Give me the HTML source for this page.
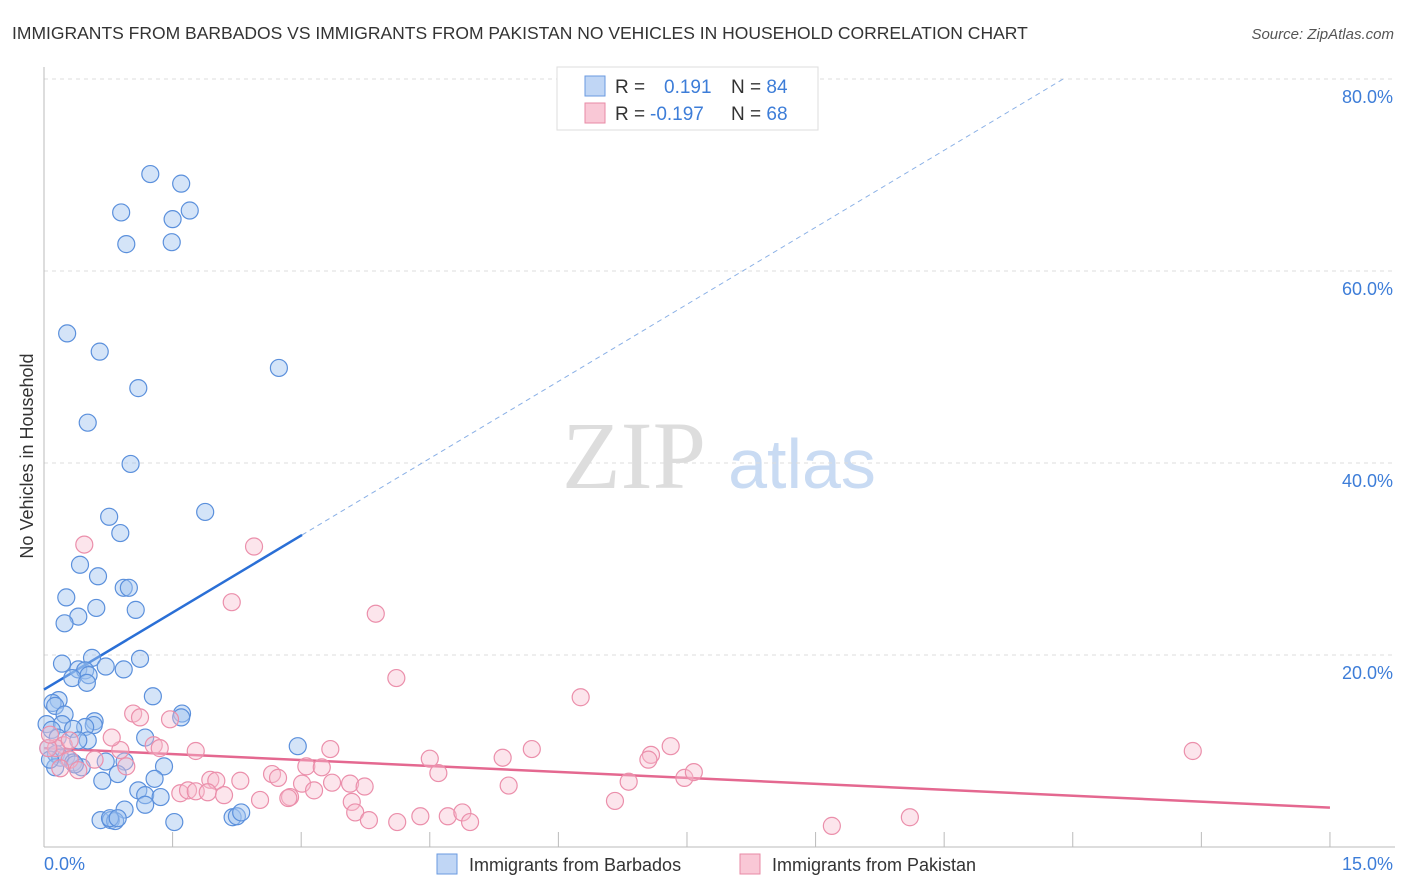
<!DOCTYPE html>
<html><head><meta charset="utf-8"><style>
body{margin:0;background:#fff;font-family:"Liberation Sans",sans-serif;}
#wrap{position:relative;width:1406px;height:892px;overflow:hidden;}
</style></head><body>
<div id="wrap">
<svg id="svg" width="1406" height="892" xmlns="http://www.w3.org/2000/svg">
<text x="12" y="39" font-size="17.5" fill="#333">IMMIGRANTS FROM BARBADOS VS IMMIGRANTS FROM PAKISTAN NO VEHICLES IN HOUSEHOLD CORRELATION CHART</text>
<text x="1394" y="39" font-size="15" fill="#555" font-style="italic" text-anchor="end">Source: ZipAtlas.com</text>
<g>
<text x="634" y="488" font-size="96" fill="#ddd" font-family="Liberation Serif,serif" text-anchor="middle">ZIP</text>
<text x="802" y="488" font-size="70" fill="#c9dbf3" text-anchor="middle">atlas</text>
</g>
<g id="grid"></g>
<g id="axes"></g>
<g id="lines"></g>
<g id="pts"></g>
<text x="33" y="456" font-size="18" fill="#333" text-anchor="middle" transform="rotate(-90 33 456)">No Vehicles in Household</text>
<g>
<rect x="557" y="67" width="261" height="63" fill="#fff" stroke="#ddd"/>
<rect x="585" y="76" width="20" height="20" fill="#c0d6f5" stroke="#6a9ae0"/>
<rect x="585" y="103" width="20" height="20" fill="#f9c8d6" stroke="#e88aa5"/>
<text x="615" y="93" font-size="19" fill="#333">R = <tspan fill="#3d7dd8" x="664">0.191</tspan><tspan x="731" fill="#333">N = </tspan><tspan fill="#3d7dd8">84</tspan></text>
<text x="615" y="120" font-size="19" fill="#333">R = <tspan fill="#3d7dd8" x="650">-0.197</tspan><tspan x="731" fill="#333">N = </tspan><tspan fill="#3d7dd8">68</tspan></text>
</g>
<g>
<rect x="437" y="854" width="20" height="20" fill="#c0d6f5" stroke="#6a9ae0"/>
<text x="469" y="871" font-size="18" fill="#333">Immigrants from Barbados</text>
<rect x="740" y="854" width="20" height="20" fill="#f9c8d6" stroke="#e88aa5"/>
<text x="772" y="871" font-size="18" fill="#333">Immigrants from Pakistan</text>
</g>
</svg>
</div>
<script>
const yTicks=[20,40,60,80];
const yTickLabels=["20.0%","40.0%","60.0%","80.0%"];
const xTicks=[0,1.5,3,4.5,6,7.5,9,10.5,12,13.5,15];
const xTickLabels=["0.0%","15.0%"];
const blueX=[1.24,1.60,0.90,1.70,1.50,0.96,1.49,0.27,0.65,1.10,2.74,0.51,1.01,1.88,0.76,0.89,0.42,0.63,0.93,0.99,0.26,0.61,1.07,0.40,0.24,0.56,1.12,0.21,0.72,0.40,0.48,0.93,0.52,0.33,0.50,1.27,0.17,0.10,0.13,0.24,1.61,1.60,0.03,0.21,0.59,0.58,0.48,0.34,0.09,1.18,2.96,0.51,0.40,0.05,0.14,0.26,0.72,0.94,0.19,0.34,1.40,0.44,0.13,0.36,0.68,0.86,1.29,1.10,1.18,1.36,0.94,1.18,0.66,0.78,0.83,0.77,0.86,1.52,2.20,2.25,2.30,0.16,0.07];
const blueY=[70.1,69.1,66.1,66.3,65.4,62.8,63.0,53.5,51.6,47.8,49.9,44.2,39.9,34.9,34.4,32.7,29.4,28.2,27.0,27.0,26.0,24.9,24.7,24.0,23.3,19.7,19.6,19.1,18.8,18.5,18.4,18.5,17.9,17.6,17.1,15.7,15.3,15.0,14.7,13.8,13.9,13.5,12.8,12.8,13.1,12.7,12.5,12.3,12.2,11.4,10.5,11.1,11.1,10.3,9.7,9.4,8.9,8.9,9.3,8.8,8.4,8.3,8.3,8.6,6.9,7.6,7.1,5.9,5.4,5.2,3.9,4.4,2.8,2.8,2.7,3.0,3.0,2.6,3.1,3.2,3.6,11.4,9.1];
const pinkX=[0.47,2.45,2.19,3.87,4.11,6.26,13.40,1.04,1.12,1.47,1.28,1.77,0.89,0.79,0.23,0.14,0.30,0.05,0.19,0.40,0.59,0.96,4.50,3.34,5.35,5.69,7.08,7.31,7.05,3.06,3.24,4.60,2.66,2.73,1.94,2.01,2.29,1.59,1.68,1.77,1.91,2.10,2.52,2.87,3.01,3.15,3.36,3.57,3.74,3.59,2.85,5.42,6.82,7.47,7.58,6.66,4.39,4.71,4.88,4.97,3.63,3.79,4.12,9.19,10.10,0.30,0.07,1.35];
const pinkY=[31.5,31.3,25.5,24.3,17.6,15.6,10.0,13.9,13.5,13.3,10.6,10.0,10.1,11.4,10.6,10.3,9.1,10.3,8.2,8.0,9.1,8.4,9.2,10.2,9.3,10.2,9.6,10.5,9.1,8.4,8.3,7.7,7.6,7.2,7.0,6.9,6.9,5.6,5.9,5.8,5.7,5.4,4.9,5.2,6.6,5.9,6.7,6.6,6.3,4.7,5.1,6.4,6.8,7.2,7.8,4.8,3.2,3.2,3.6,2.6,3.6,2.8,2.6,2.2,3.1,11.1,11.7,10.3];
const blueTrend=[16.4,5.35]; // intercept, slope per %
const pinkTrend=[10.3,-0.413];
const NS="http://www.w3.org/2000/svg";
const X=v=>44+v*85.73, Y=v=>847-v*9.6;
function mk(tag,attrs,parent){const e=document.createElementNS(NS,tag);for(const k in attrs)e.setAttribute(k,attrs[k]);document.getElementById(parent).appendChild(e);return e;}
yTicks.forEach((t,i)=>{
 const g=mk('line',{x1:44,x2:1395,y1:Y(t),y2:Y(t),stroke:'#ddd','stroke-dasharray':'4,4'},'grid');
 
 
 const l=mk('text',{x:1393,y:Y(t)+24,'font-size':18,fill:'#3d7dd8','text-anchor':'end'},'axes');
 l.textContent=yTickLabels[i];
 
 
});
const ax=mk('line',{x1:44,x2:44,y1:67,y2:847,stroke:'#bbb'},'axes');


const bx=mk('line',{x1:44,x2:1395,y1:847,y2:847,stroke:'#bbb'},'axes');


xTicks.forEach(t=>{const k=mk('line',{x1:X(t),x2:X(t),y1:832,y2:847,stroke:'#bbb'},'axes');
 
 });
const l0=mk('text',{x:44,y:870,'font-size':18,fill:'#3d7dd8'},'axes');l0.textContent=xTickLabels[0];


const l1=mk('text',{x:1393,y:870,'font-size':18,fill:'#3d7dd8','text-anchor':'end'},'axes');l1.textContent=xTickLabels[1];


blueX.forEach((x,i)=>{const c=mk('circle',{cx:X(x),cy:Y(blueY[i]),r:8.5,fill:'rgba(160,196,240,0.45)',stroke:'#5b90dc','stroke-width':1.2},'pts');
 
 });
pinkX.forEach((x,i)=>{const c=mk('circle',{cx:X(x),cy:Y(pinkY[i]),r:8.5,fill:'rgba(248,190,208,0.4)',stroke:'#eb8fab','stroke-width':1.2},'pts');
 
 });
const bxEnd=3.01, bxDash=(80-blueTrend[0])/blueTrend[1];
const b1=mk('line',{x1:X(0),y1:Y(blueTrend[0]),x2:X(bxEnd),y2:Y(blueTrend[0]+blueTrend[1]*bxEnd),stroke:'#2a6fd6','stroke-width':2.5},'lines');


const b2=mk('line',{x1:X(bxEnd),y1:Y(blueTrend[0]+blueTrend[1]*bxEnd),x2:X(bxDash),y2:Y(80),stroke:'#8ab0e6','stroke-width':1,'stroke-dasharray':'5,4'},'lines');


const p1=mk('line',{x1:X(0),y1:Y(pinkTrend[0]),x2:X(15),y2:Y(pinkTrend[0]+pinkTrend[1]*15),stroke:'#e46890','stroke-width':2.5},'lines');


</script>
</body></html>
